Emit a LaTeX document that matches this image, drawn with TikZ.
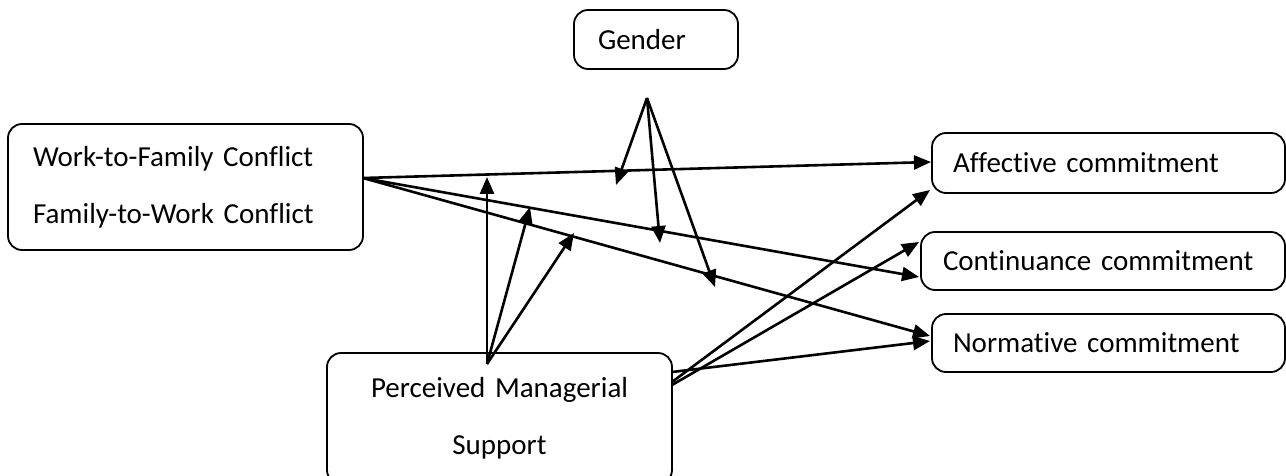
\documentclass[tikz,border=0pt]{standalone}
\usepackage{fontspec}
\setmainfont{Carlito}[Ligatures={NoCommon}]
\usetikzlibrary{arrows.meta}
\begin{document}
\begin{tikzpicture}[x=1pt,y=-1pt,
  box/.style={draw, line width=1.8pt, rounded corners=14pt, fill=white,
    font=\fontsize{29}{57}\selectfont, inner ysep=0pt},
  arr/.style={line width=2.6pt, -{Triangle[length=17pt,width=14pt]}}]
\useasboundingbox (0,0) rectangle (1286,476);
% nodes
\node[box, text width=116pt, inner xsep=24pt, minimum height=59pt, align=left] (gender) at (656,39.5) {Gender};
\node[box, text width=305pt, inner xsep=25pt, minimum height=126pt, align=left] (wfc) at (185.5,187) {Work-to-Family Conflict\\Family-to-Work Conflict};
\node[box, text width=305pt, inner xsep=20pt, minimum height=131pt, align=center] (pms) at (499.5,418.5) {Perceived Managerial\\Support};
\node[box, text width=311pt, inner xsep=21pt, minimum height=60pt, align=left] (aff) at (1108.5,163) {Affective commitment};
\node[box, text width=320pt, inner xsep=22pt, minimum height=58pt, align=left] (cont) at (1103,261) {Continuance commitment};
\node[box, text width=311pt, inner xsep=21pt, minimum height=58pt, align=left] (norm) at (1108.5,343) {Normative commitment};
% connection points
\coordinate (wfcout) at (363,178);
\coordinate (gapex) at (647,98);
\coordinate (pmstop) at (487,364);
\coordinate (pmsr1) at (672,372);
\coordinate (pmsr2) at (672,382);
\coordinate (pmsr3) at (672,385);
\coordinate (affA) at (931,162);
\coordinate (affB) at (930,190);
\coordinate (contA) at (919,277);
\coordinate (contB) at (919,242);
\coordinate (normA) at (930,336);
\coordinate (normB) at (930,341);
\coordinate (g1) at (616,185);
\coordinate (g2) at (660,243);
\coordinate (g3) at (715,287);
\coordinate (p1) at (487,177);
\coordinate (p2) at (530,207);
\coordinate (p3) at (574,233);
% main paths
\draw[arr] (wfcout) -- (affA);
\draw[arr] (wfcout) -- (contA);
\draw[arr] (wfcout) -- (normA);
% gender moderation
\draw[arr] (gapex) -- (g1);
\draw[arr] (gapex) -- (g2);
\draw[arr] (gapex) -- (g3);
% managerial support moderation
\draw[arr] (pmstop) -- (p1);
\draw[arr] (pmstop) -- (p2);
\draw[arr] (pmstop) -- (p3);
% managerial support direct
\draw[arr] (pmsr1) -- (normB);
\draw[arr] (pmsr2) -- (affB);
\draw[arr] (pmsr3) -- (contB);
\end{tikzpicture}
\end{document}
